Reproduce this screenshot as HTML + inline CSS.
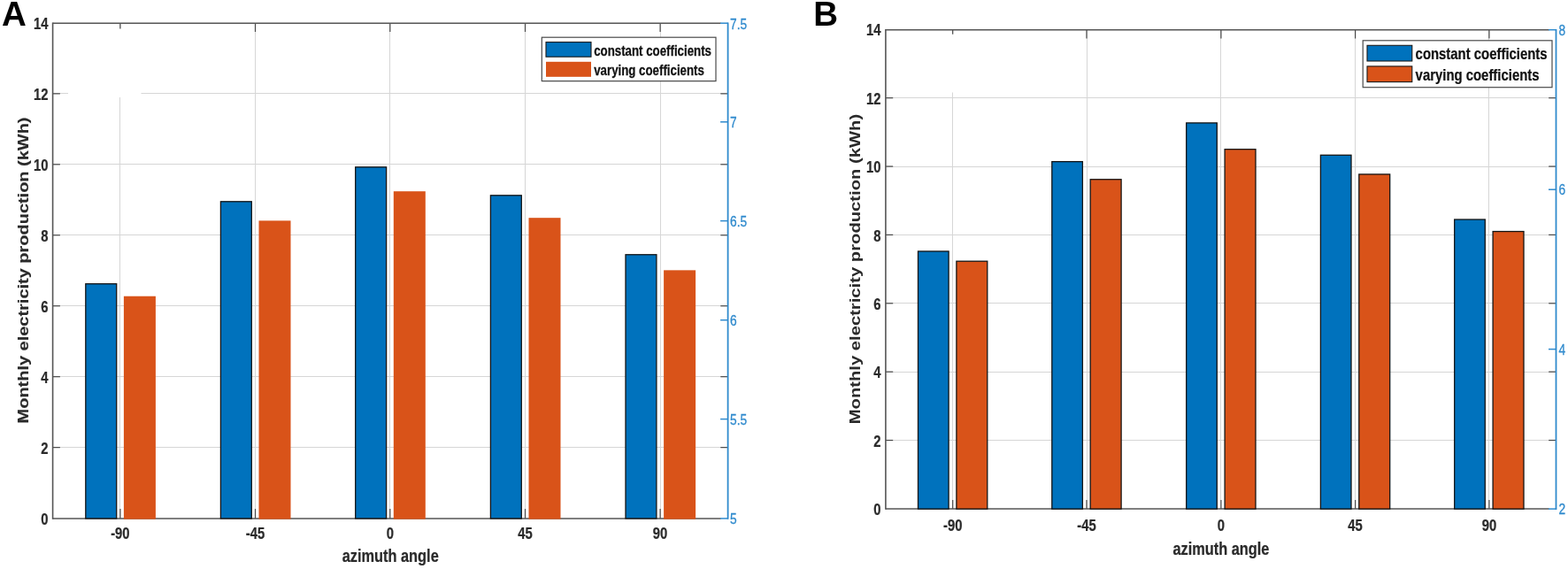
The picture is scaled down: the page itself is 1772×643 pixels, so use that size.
<!DOCTYPE html>
<html lang="en"><head><meta charset="utf-8"><title>Monthly electricity production vs azimuth angle</title>
<style>html,body{margin:0;padding:0;background:#fff;}body{width:1772px;height:643px;overflow:hidden;font-family:"Liberation Sans", sans-serif;}svg{display:block;}</style>
</head><body>
<svg width="1772" height="643" viewBox="0 0 1772 643" font-family='"Liberation Sans", sans-serif'>
<rect x="0" y="0" width="1772" height="643" fill="#fff"/>
<line x1="59.60" y1="505.50" x2="822.60" y2="505.50" stroke="#d6d6d6" stroke-width="1.0"/>
<line x1="59.60" y1="425.50" x2="822.60" y2="425.50" stroke="#d6d6d6" stroke-width="1.0"/>
<line x1="59.60" y1="345.50" x2="822.60" y2="345.50" stroke="#d6d6d6" stroke-width="1.0"/>
<line x1="59.60" y1="265.50" x2="822.60" y2="265.50" stroke="#d6d6d6" stroke-width="1.0"/>
<line x1="59.60" y1="185.50" x2="822.60" y2="185.50" stroke="#d6d6d6" stroke-width="1.0"/>
<line x1="59.60" y1="105.50" x2="822.60" y2="105.50" stroke="#d6d6d6" stroke-width="1.0"/>
<line x1="135.50" y1="26.20" x2="135.50" y2="585.90" stroke="#d6d6d6" stroke-width="1.0"/>
<line x1="288.50" y1="26.20" x2="288.50" y2="585.90" stroke="#d6d6d6" stroke-width="1.0"/>
<line x1="440.50" y1="26.20" x2="440.50" y2="585.90" stroke="#d6d6d6" stroke-width="1.0"/>
<line x1="593.50" y1="26.20" x2="593.50" y2="585.90" stroke="#d6d6d6" stroke-width="1.0"/>
<line x1="746.50" y1="26.20" x2="746.50" y2="585.90" stroke="#d6d6d6" stroke-width="1.0"/>
<line x1="135.90" y1="585.90" x2="135.90" y2="575.10" stroke="#474747" stroke-width="1.2"/>
<line x1="135.90" y1="26.20" x2="135.90" y2="36.00" stroke="#474747" stroke-width="1.2"/>
<line x1="288.50" y1="585.90" x2="288.50" y2="575.10" stroke="#474747" stroke-width="1.2"/>
<line x1="288.50" y1="26.20" x2="288.50" y2="36.00" stroke="#474747" stroke-width="1.2"/>
<line x1="440.80" y1="585.90" x2="440.80" y2="575.10" stroke="#474747" stroke-width="1.2"/>
<line x1="440.80" y1="26.20" x2="440.80" y2="36.00" stroke="#474747" stroke-width="1.2"/>
<line x1="593.50" y1="585.90" x2="593.50" y2="575.10" stroke="#474747" stroke-width="1.2"/>
<line x1="593.50" y1="26.20" x2="593.50" y2="36.00" stroke="#474747" stroke-width="1.2"/>
<line x1="746.10" y1="585.90" x2="746.10" y2="575.10" stroke="#474747" stroke-width="1.2"/>
<line x1="746.10" y1="26.20" x2="746.10" y2="36.00" stroke="#474747" stroke-width="1.2"/>
<rect x="77.00" y="32.50" width="82.50" height="77.50" fill="#fff"/>
<line x1="59.60" y1="505.64" x2="67.90" y2="505.64" stroke="#474747" stroke-width="1.2"/>
<line x1="814.30" y1="505.64" x2="822.60" y2="505.64" stroke="#474747" stroke-width="1.2"/>
<line x1="59.60" y1="425.69" x2="67.90" y2="425.69" stroke="#474747" stroke-width="1.2"/>
<line x1="814.30" y1="425.69" x2="822.60" y2="425.69" stroke="#474747" stroke-width="1.2"/>
<line x1="59.60" y1="345.73" x2="67.90" y2="345.73" stroke="#474747" stroke-width="1.2"/>
<line x1="814.30" y1="345.73" x2="822.60" y2="345.73" stroke="#474747" stroke-width="1.2"/>
<line x1="59.60" y1="265.77" x2="67.90" y2="265.77" stroke="#474747" stroke-width="1.2"/>
<line x1="814.30" y1="265.77" x2="822.60" y2="265.77" stroke="#474747" stroke-width="1.2"/>
<line x1="59.60" y1="185.81" x2="67.90" y2="185.81" stroke="#474747" stroke-width="1.2"/>
<line x1="814.30" y1="185.81" x2="822.60" y2="185.81" stroke="#474747" stroke-width="1.2"/>
<line x1="59.60" y1="105.86" x2="67.90" y2="105.86" stroke="#474747" stroke-width="1.2"/>
<line x1="814.30" y1="105.86" x2="822.60" y2="105.86" stroke="#474747" stroke-width="1.2"/>
<line x1="59.60" y1="25.45" x2="59.60" y2="586.65" stroke="#555555" stroke-width="1.6"/>
<line x1="59.60" y1="26.20" x2="814.60" y2="26.20" stroke="#555555" stroke-width="1.5"/>
<line x1="59.60" y1="585.90" x2="814.60" y2="585.90" stroke="#555555" stroke-width="1.5"/>
<rect x="96.80" y="320.74" width="34.90" height="265.16" fill="#0072BD" stroke="#141414" stroke-width="1.3"/>
<rect x="139.90" y="334.73" width="36.00" height="251.92" fill="#D95319"/>
<rect x="249.40" y="227.79" width="34.90" height="358.11" fill="#0072BD" stroke="#141414" stroke-width="1.3"/>
<rect x="292.50" y="249.38" width="36.00" height="337.27" fill="#D95319"/>
<rect x="401.70" y="188.81" width="34.90" height="397.09" fill="#0072BD" stroke="#141414" stroke-width="1.3"/>
<rect x="444.80" y="216.20" width="36.00" height="370.45" fill="#D95319"/>
<rect x="554.40" y="220.80" width="34.90" height="365.10" fill="#0072BD" stroke="#141414" stroke-width="1.3"/>
<rect x="597.50" y="246.18" width="36.00" height="340.47" fill="#D95319"/>
<rect x="707.00" y="287.76" width="34.90" height="298.14" fill="#0072BD" stroke="#141414" stroke-width="1.3"/>
<rect x="750.10" y="305.35" width="36.00" height="281.30" fill="#D95319"/>
<line x1="822.60" y1="25.40" x2="822.60" y2="586.70" stroke="#2f8acd" stroke-width="1.8"/>
<line x1="814.10" y1="26.20" x2="822.60" y2="26.20" stroke="#2f8acd" stroke-width="1.5"/>
<text transform="translate(825.00,32.70) scale(0.87,1.0)" font-size="15.8" font-weight="normal" text-anchor="start" fill="#2f8acd" stroke="#2f8acd" stroke-width="0.3">7.5</text>
<line x1="814.10" y1="137.80" x2="822.60" y2="137.80" stroke="#2f8acd" stroke-width="1.5"/>
<text transform="translate(825.00,144.30) scale(0.87,1.0)" font-size="15.8" font-weight="normal" text-anchor="start" fill="#2f8acd" stroke="#2f8acd" stroke-width="0.3">7</text>
<line x1="814.10" y1="249.60" x2="822.60" y2="249.60" stroke="#2f8acd" stroke-width="1.5"/>
<text transform="translate(825.00,256.10) scale(0.87,1.0)" font-size="15.8" font-weight="normal" text-anchor="start" fill="#2f8acd" stroke="#2f8acd" stroke-width="0.3">6.5</text>
<line x1="814.10" y1="361.70" x2="822.60" y2="361.70" stroke="#2f8acd" stroke-width="1.5"/>
<text transform="translate(825.00,368.20) scale(0.87,1.0)" font-size="15.8" font-weight="normal" text-anchor="start" fill="#2f8acd" stroke="#2f8acd" stroke-width="0.3">6</text>
<line x1="814.10" y1="473.60" x2="822.60" y2="473.60" stroke="#2f8acd" stroke-width="1.5"/>
<text transform="translate(825.00,480.10) scale(0.87,1.0)" font-size="15.8" font-weight="normal" text-anchor="start" fill="#2f8acd" stroke="#2f8acd" stroke-width="0.3">5.5</text>
<line x1="814.10" y1="585.90" x2="822.60" y2="585.90" stroke="#2f8acd" stroke-width="1.5"/>
<text transform="translate(825.00,592.40) scale(0.87,1.0)" font-size="15.8" font-weight="normal" text-anchor="start" fill="#2f8acd" stroke="#2f8acd" stroke-width="0.3">5</text>
<text transform="translate(54.60,592.60) scale(0.81,1.0)" font-size="18.3" font-weight="bold" text-anchor="end" fill="#2a2a2a" stroke="#2a2a2a" stroke-width="0.25">0</text>
<text transform="translate(54.60,512.64) scale(0.81,1.0)" font-size="18.3" font-weight="bold" text-anchor="end" fill="#2a2a2a" stroke="#2a2a2a" stroke-width="0.25">2</text>
<text transform="translate(54.60,432.69) scale(0.81,1.0)" font-size="18.3" font-weight="bold" text-anchor="end" fill="#2a2a2a" stroke="#2a2a2a" stroke-width="0.25">4</text>
<text transform="translate(54.60,352.73) scale(0.81,1.0)" font-size="18.3" font-weight="bold" text-anchor="end" fill="#2a2a2a" stroke="#2a2a2a" stroke-width="0.25">6</text>
<text transform="translate(54.60,272.77) scale(0.81,1.0)" font-size="18.3" font-weight="bold" text-anchor="end" fill="#2a2a2a" stroke="#2a2a2a" stroke-width="0.25">8</text>
<text transform="translate(54.60,192.81) scale(0.81,1.0)" font-size="18.3" font-weight="bold" text-anchor="end" fill="#2a2a2a" stroke="#2a2a2a" stroke-width="0.25">10</text>
<text transform="translate(54.60,112.86) scale(0.81,1.0)" font-size="18.3" font-weight="bold" text-anchor="end" fill="#2a2a2a" stroke="#2a2a2a" stroke-width="0.25">12</text>
<text transform="translate(54.60,32.90) scale(0.81,1.0)" font-size="18.3" font-weight="bold" text-anchor="end" fill="#2a2a2a" stroke="#2a2a2a" stroke-width="0.25">14</text>
<text transform="translate(135.90,609.40) scale(0.81,1.0)" font-size="18.3" font-weight="bold" text-anchor="middle" fill="#2a2a2a" stroke="#2a2a2a" stroke-width="0.25">-90</text>
<text transform="translate(288.50,609.40) scale(0.81,1.0)" font-size="18.3" font-weight="bold" text-anchor="middle" fill="#2a2a2a" stroke="#2a2a2a" stroke-width="0.25">-45</text>
<text transform="translate(440.80,609.40) scale(0.81,1.0)" font-size="18.3" font-weight="bold" text-anchor="middle" fill="#2a2a2a" stroke="#2a2a2a" stroke-width="0.25">0</text>
<text transform="translate(593.50,609.40) scale(0.81,1.0)" font-size="18.3" font-weight="bold" text-anchor="middle" fill="#2a2a2a" stroke="#2a2a2a" stroke-width="0.25">45</text>
<text transform="translate(746.10,609.40) scale(0.81,1.0)" font-size="18.3" font-weight="bold" text-anchor="middle" fill="#2a2a2a" stroke="#2a2a2a" stroke-width="0.25">90</text>
<text transform="translate(441.20,634.90) scale(0.81,1.0)" font-size="20.2" font-weight="bold" text-anchor="middle" fill="#2a2a2a" stroke="#2a2a2a" stroke-width="0.25">azimuth angle</text>
<text transform="translate(31.70,305.45) rotate(-90) scale(1.0,0.82)" font-size="19.96" font-weight="bold" text-anchor="middle" fill="#2a2a2a" stroke="#2a2a2a" stroke-width="0.15">Monthly electricity production (kWh)</text>
<rect x="612.30" y="42.20" width="196.70" height="49.40" fill="#fff" stroke="#4a4a4a" stroke-width="1.2"/>
<rect x="617.00" y="47.60" width="51.00" height="16.60" fill="#0072BD" stroke="#1a1a1a" stroke-width="1.1"/>
<rect x="617.00" y="69.80" width="51.00" height="17.00" fill="#D95319"/>
<text transform="translate(671.20,62.60) scale(0.846,1.0)" font-size="15.7" font-weight="bold" text-anchor="start" fill="#111" stroke="#111" stroke-width="0.25">constant coefficients</text>
<text transform="translate(671.20,84.80) scale(0.846,1.0)" font-size="15.7" font-weight="bold" text-anchor="start" fill="#111" stroke="#111" stroke-width="0.25">varying coefficients</text>
<text transform="translate(1.90,29.00)" font-size="38.5" font-weight="bold" text-anchor="start" fill="#000">A</text>
<line x1="1000.90" y1="497.50" x2="1758.50" y2="497.50" stroke="#d6d6d6" stroke-width="1.0"/>
<line x1="1000.90" y1="420.50" x2="1758.50" y2="420.50" stroke="#d6d6d6" stroke-width="1.0"/>
<line x1="1000.90" y1="342.50" x2="1758.50" y2="342.50" stroke="#d6d6d6" stroke-width="1.0"/>
<line x1="1000.90" y1="265.50" x2="1758.50" y2="265.50" stroke="#d6d6d6" stroke-width="1.0"/>
<line x1="1000.90" y1="188.50" x2="1758.50" y2="188.50" stroke="#d6d6d6" stroke-width="1.0"/>
<line x1="1000.90" y1="110.50" x2="1758.50" y2="110.50" stroke="#d6d6d6" stroke-width="1.0"/>
<line x1="1076.50" y1="33.70" x2="1076.50" y2="575.10" stroke="#d6d6d6" stroke-width="1.0"/>
<line x1="1228.50" y1="33.70" x2="1228.50" y2="575.10" stroke="#d6d6d6" stroke-width="1.0"/>
<line x1="1379.50" y1="33.70" x2="1379.50" y2="575.10" stroke="#d6d6d6" stroke-width="1.0"/>
<line x1="1531.50" y1="33.70" x2="1531.50" y2="575.10" stroke="#d6d6d6" stroke-width="1.0"/>
<line x1="1682.50" y1="33.70" x2="1682.50" y2="575.10" stroke="#d6d6d6" stroke-width="1.0"/>
<line x1="1076.70" y1="575.10" x2="1076.70" y2="565.10" stroke="#474747" stroke-width="1.2"/>
<line x1="1076.70" y1="33.70" x2="1076.70" y2="43.50" stroke="#474747" stroke-width="1.2"/>
<line x1="1228.00" y1="575.10" x2="1228.00" y2="565.10" stroke="#474747" stroke-width="1.2"/>
<line x1="1228.00" y1="33.70" x2="1228.00" y2="43.50" stroke="#474747" stroke-width="1.2"/>
<line x1="1379.90" y1="575.10" x2="1379.90" y2="565.10" stroke="#474747" stroke-width="1.2"/>
<line x1="1379.90" y1="33.70" x2="1379.90" y2="43.50" stroke="#474747" stroke-width="1.2"/>
<line x1="1531.60" y1="575.10" x2="1531.60" y2="565.10" stroke="#474747" stroke-width="1.2"/>
<line x1="1531.60" y1="33.70" x2="1531.60" y2="43.50" stroke="#474747" stroke-width="1.2"/>
<line x1="1682.90" y1="575.10" x2="1682.90" y2="565.10" stroke="#474747" stroke-width="1.2"/>
<line x1="1682.90" y1="33.70" x2="1682.90" y2="43.50" stroke="#474747" stroke-width="1.2"/>
<rect x="1070.00" y="38.70" width="14.00" height="65.80" fill="#fff"/>
<line x1="1000.90" y1="497.53" x2="1009.20" y2="497.53" stroke="#474747" stroke-width="1.2"/>
<line x1="1750.20" y1="497.53" x2="1758.50" y2="497.53" stroke="#474747" stroke-width="1.2"/>
<line x1="1000.90" y1="420.16" x2="1009.20" y2="420.16" stroke="#474747" stroke-width="1.2"/>
<line x1="1750.20" y1="420.16" x2="1758.50" y2="420.16" stroke="#474747" stroke-width="1.2"/>
<line x1="1000.90" y1="342.79" x2="1009.20" y2="342.79" stroke="#474747" stroke-width="1.2"/>
<line x1="1750.20" y1="342.79" x2="1758.50" y2="342.79" stroke="#474747" stroke-width="1.2"/>
<line x1="1000.90" y1="265.41" x2="1009.20" y2="265.41" stroke="#474747" stroke-width="1.2"/>
<line x1="1750.20" y1="265.41" x2="1758.50" y2="265.41" stroke="#474747" stroke-width="1.2"/>
<line x1="1000.90" y1="188.04" x2="1009.20" y2="188.04" stroke="#474747" stroke-width="1.2"/>
<line x1="1750.20" y1="188.04" x2="1758.50" y2="188.04" stroke="#474747" stroke-width="1.2"/>
<line x1="1000.90" y1="110.67" x2="1009.20" y2="110.67" stroke="#474747" stroke-width="1.2"/>
<line x1="1750.20" y1="110.67" x2="1758.50" y2="110.67" stroke="#474747" stroke-width="1.2"/>
<line x1="1000.90" y1="32.95" x2="1000.90" y2="575.85" stroke="#555555" stroke-width="1.6"/>
<line x1="1000.90" y1="33.70" x2="1750.50" y2="33.70" stroke="#555555" stroke-width="1.5"/>
<line x1="1000.90" y1="575.10" x2="1750.50" y2="575.10" stroke="#555555" stroke-width="1.5"/>
<rect x="1037.50" y="283.98" width="34.60" height="291.12" fill="#0072BD" stroke="#141414" stroke-width="1.3"/>
<rect x="1080.90" y="295.20" width="34.90" height="279.90" fill="#D95319" stroke="#141414" stroke-width="1.3"/>
<rect x="1188.80" y="182.63" width="34.60" height="392.47" fill="#0072BD" stroke="#141414" stroke-width="1.3"/>
<rect x="1232.20" y="202.74" width="34.90" height="372.36" fill="#D95319" stroke="#141414" stroke-width="1.3"/>
<rect x="1340.70" y="138.91" width="34.60" height="436.19" fill="#0072BD" stroke="#141414" stroke-width="1.3"/>
<rect x="1384.10" y="168.70" width="34.90" height="406.40" fill="#D95319" stroke="#141414" stroke-width="1.3"/>
<rect x="1492.40" y="175.28" width="34.60" height="399.82" fill="#0072BD" stroke="#141414" stroke-width="1.3"/>
<rect x="1535.80" y="196.94" width="34.90" height="378.16" fill="#D95319" stroke="#141414" stroke-width="1.3"/>
<rect x="1643.70" y="248.01" width="34.60" height="327.09" fill="#0072BD" stroke="#141414" stroke-width="1.3"/>
<rect x="1687.10" y="261.55" width="34.90" height="313.55" fill="#D95319" stroke="#141414" stroke-width="1.3"/>
<line x1="1758.50" y1="32.90" x2="1758.50" y2="575.90" stroke="#2f8acd" stroke-width="1.8"/>
<line x1="1750.00" y1="33.70" x2="1758.50" y2="33.70" stroke="#2f8acd" stroke-width="1.5"/>
<text transform="translate(1761.60,39.60) scale(0.87,1.0)" font-size="15.8" font-weight="normal" text-anchor="start" fill="#2f8acd" stroke="#2f8acd" stroke-width="0.3">8</text>
<line x1="1750.00" y1="214.20" x2="1758.50" y2="214.20" stroke="#2f8acd" stroke-width="1.5"/>
<text transform="translate(1761.60,220.10) scale(0.87,1.0)" font-size="15.8" font-weight="normal" text-anchor="start" fill="#2f8acd" stroke="#2f8acd" stroke-width="0.3">6</text>
<line x1="1750.00" y1="394.60" x2="1758.50" y2="394.60" stroke="#2f8acd" stroke-width="1.5"/>
<text transform="translate(1761.60,400.50) scale(0.87,1.0)" font-size="15.8" font-weight="normal" text-anchor="start" fill="#2f8acd" stroke="#2f8acd" stroke-width="0.3">4</text>
<line x1="1750.00" y1="575.10" x2="1758.50" y2="575.10" stroke="#2f8acd" stroke-width="1.5"/>
<text transform="translate(1761.60,581.00) scale(0.87,1.0)" font-size="15.8" font-weight="normal" text-anchor="start" fill="#2f8acd" stroke="#2f8acd" stroke-width="0.3">2</text>
<text transform="translate(995.60,582.00) scale(0.81,1.0)" font-size="18.3" font-weight="bold" text-anchor="end" fill="#2a2a2a" stroke="#2a2a2a" stroke-width="0.25">0</text>
<text transform="translate(995.60,504.63) scale(0.81,1.0)" font-size="18.3" font-weight="bold" text-anchor="end" fill="#2a2a2a" stroke="#2a2a2a" stroke-width="0.25">2</text>
<text transform="translate(995.60,427.26) scale(0.81,1.0)" font-size="18.3" font-weight="bold" text-anchor="end" fill="#2a2a2a" stroke="#2a2a2a" stroke-width="0.25">4</text>
<text transform="translate(995.60,349.89) scale(0.81,1.0)" font-size="18.3" font-weight="bold" text-anchor="end" fill="#2a2a2a" stroke="#2a2a2a" stroke-width="0.25">6</text>
<text transform="translate(995.60,272.51) scale(0.81,1.0)" font-size="18.3" font-weight="bold" text-anchor="end" fill="#2a2a2a" stroke="#2a2a2a" stroke-width="0.25">8</text>
<text transform="translate(995.60,195.14) scale(0.81,1.0)" font-size="18.3" font-weight="bold" text-anchor="end" fill="#2a2a2a" stroke="#2a2a2a" stroke-width="0.25">10</text>
<text transform="translate(995.60,117.77) scale(0.81,1.0)" font-size="18.3" font-weight="bold" text-anchor="end" fill="#2a2a2a" stroke="#2a2a2a" stroke-width="0.25">12</text>
<text transform="translate(995.60,40.40) scale(0.81,1.0)" font-size="18.3" font-weight="bold" text-anchor="end" fill="#2a2a2a" stroke="#2a2a2a" stroke-width="0.25">14</text>
<text transform="translate(1076.70,599.80) scale(0.81,1.0)" font-size="18.3" font-weight="bold" text-anchor="middle" fill="#2a2a2a" stroke="#2a2a2a" stroke-width="0.25">-90</text>
<text transform="translate(1228.00,599.80) scale(0.81,1.0)" font-size="18.3" font-weight="bold" text-anchor="middle" fill="#2a2a2a" stroke="#2a2a2a" stroke-width="0.25">-45</text>
<text transform="translate(1379.90,599.80) scale(0.81,1.0)" font-size="18.3" font-weight="bold" text-anchor="middle" fill="#2a2a2a" stroke="#2a2a2a" stroke-width="0.25">0</text>
<text transform="translate(1531.60,599.80) scale(0.81,1.0)" font-size="18.3" font-weight="bold" text-anchor="middle" fill="#2a2a2a" stroke="#2a2a2a" stroke-width="0.25">45</text>
<text transform="translate(1682.90,599.80) scale(0.81,1.0)" font-size="18.3" font-weight="bold" text-anchor="middle" fill="#2a2a2a" stroke="#2a2a2a" stroke-width="0.25">90</text>
<text transform="translate(1379.90,626.90) scale(0.81,1.0)" font-size="20.2" font-weight="bold" text-anchor="middle" fill="#2a2a2a" stroke="#2a2a2a" stroke-width="0.25">azimuth angle</text>
<text transform="translate(972.10,304.10) rotate(-90) scale(1.0,0.79)" font-size="20.22" font-weight="bold" text-anchor="middle" fill="#2a2a2a">Monthly electricity production (kWh)</text>
<rect x="1540.20" y="45.80" width="213.80" height="52.90" fill="#fff" stroke="#4a4a4a" stroke-width="1.2"/>
<rect x="1545.00" y="51.30" width="50.80" height="17.70" fill="#0072BD" stroke="#1a1a1a" stroke-width="1.1"/>
<rect x="1545.00" y="74.90" width="50.80" height="17.70" fill="#D95319" stroke="#1a1a1a" stroke-width="1.1"/>
<text transform="translate(1599.60,67.30) scale(0.81,1.0)" font-size="18.4" font-weight="bold" text-anchor="start" fill="#111" stroke="#111" stroke-width="0.25">constant coefficients</text>
<text transform="translate(1599.60,90.90) scale(0.81,1.0)" font-size="18.4" font-weight="bold" text-anchor="start" fill="#111" stroke="#111" stroke-width="0.25">varying coefficients</text>
<text transform="translate(919.30,28.80)" font-size="38.5" font-weight="bold" text-anchor="start" fill="#000">B</text>
</svg>
</body></html>
